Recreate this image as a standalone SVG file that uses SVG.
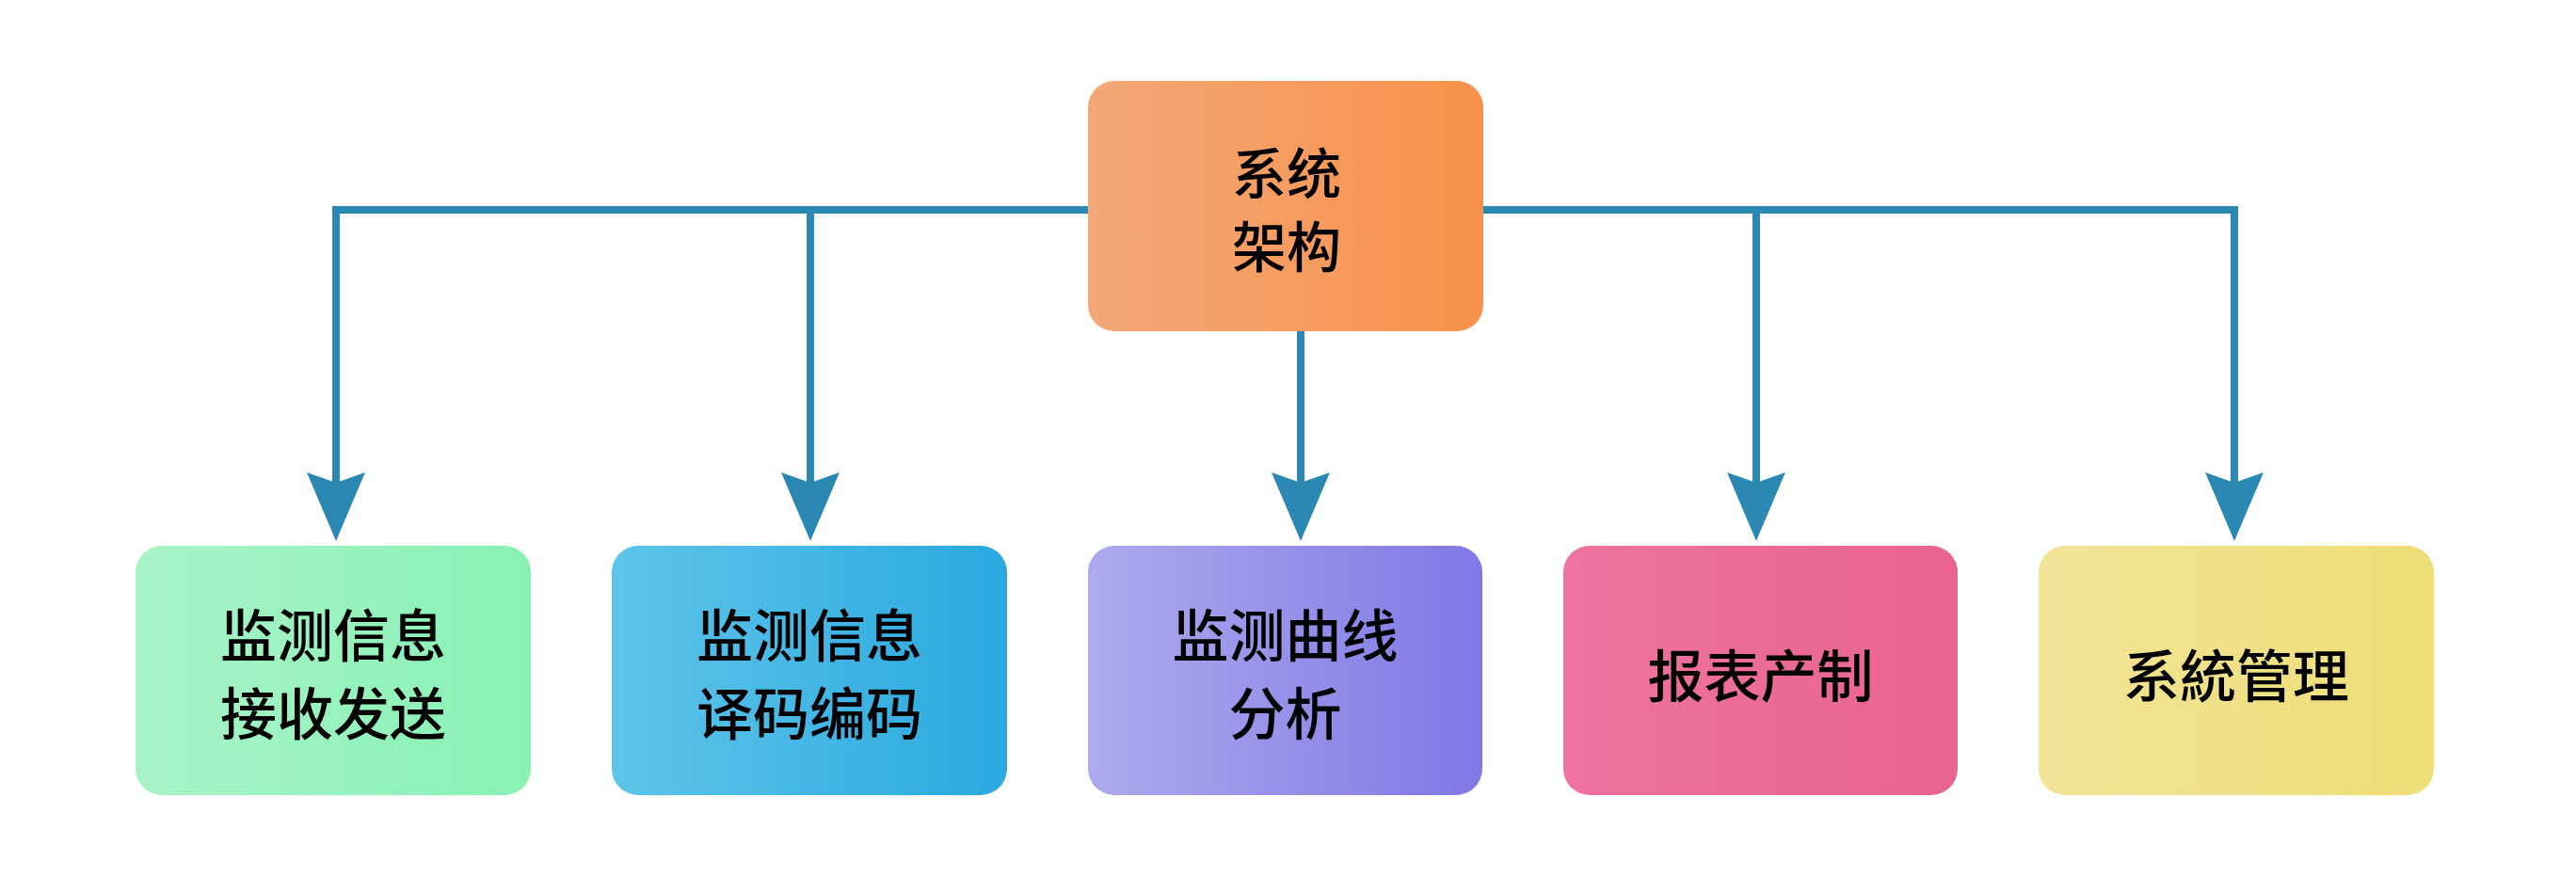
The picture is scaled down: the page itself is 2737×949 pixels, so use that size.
<svg xmlns="http://www.w3.org/2000/svg" width="2737" height="949" viewBox="0 0 2737 949">
<style>
.lbl{font-family:"Noto Sans CJK SC","Noto Sans CJK TC",sans-serif;font-size:60px;font-weight:500;fill:#000;text-anchor:middle}
.top{font-size:58px}
.conn{fill:none;stroke:#2a88b2;stroke-width:8;stroke-linejoin:miter;stroke-linecap:butt}
</style>
<defs>
<linearGradient id="gTop" x1="0" y1="0" x2="1" y2="0"><stop offset="0" stop-color="#f3a878"/><stop offset="1" stop-color="#f8914b"/></linearGradient>
<linearGradient id="g1" x1="0" y1="0" x2="1" y2="0"><stop offset="0" stop-color="#a9f3c8"/><stop offset="1" stop-color="#87f2b3"/></linearGradient>
<linearGradient id="g2" x1="0" y1="0" x2="1" y2="0"><stop offset="0" stop-color="#5ec5e9"/><stop offset="1" stop-color="#2aa8e0"/></linearGradient>
<linearGradient id="g3" x1="0" y1="0" x2="1" y2="0"><stop offset="0" stop-color="#aeaaec"/><stop offset="1" stop-color="#7f78e6"/></linearGradient>
<linearGradient id="g4" x1="0" y1="0" x2="1" y2="0"><stop offset="0" stop-color="#ee73a0"/><stop offset="1" stop-color="#e8648e"/></linearGradient>
<linearGradient id="g5" x1="0" y1="0" x2="1" y2="0"><stop offset="0" stop-color="#f2e497"/><stop offset="1" stop-color="#eede77"/></linearGradient>
<marker id="arr" markerUnits="userSpaceOnUse" viewBox="-15 -35 80 70" refX="0" refY="0" markerWidth="80" markerHeight="70" orient="auto">
<path d="M62,0 L-11,-31 L0,0 L-11,31 Z" fill="#2a88b2"/>
</marker>
</defs>
<rect width="2737" height="949" fill="#fff"/>
<g id="connectors">
<path class="conn" d="M1163,223 H357 V513" marker-end="url(#arr)"/>
<path class="conn" d="M861,223 V513" marker-end="url(#arr)"/>
<path class="conn" d="M1382,352 V513" marker-end="url(#arr)"/>
<path class="conn" d="M1568,223 H2374 V513" marker-end="url(#arr)"/>
<path class="conn" d="M1866,223 V513" marker-end="url(#arr)"/>
</g>
<g id="top">
<rect x="1156" y="86" width="420" height="266" rx="28" fill="url(#gTop)"/>
<text class="lbl top" x="1367" y="206">系统</text>
<text class="lbl top" x="1367" y="284">架构</text>
</g>
<g id="n1">
<rect x="144" y="580" width="420" height="265" rx="28" fill="url(#g1)"/>
<text class="lbl" x="354" y="698">监测信息</text>
<text class="lbl" x="354" y="781">接收发送</text>
</g>
<g id="n2">
<rect x="650" y="580" width="420" height="265" rx="28" fill="url(#g2)"/>
<text class="lbl" x="860" y="698">监测信息</text>
<text class="lbl" x="860" y="781">译码编码</text>
</g>
<g id="n3">
<rect x="1156" y="580" width="419" height="265" rx="28" fill="url(#g3)"/>
<text class="lbl" x="1365.5" y="698">监测曲线</text>
<text class="lbl" x="1365.5" y="781">分析</text>
</g>
<g id="n4">
<rect x="1661" y="580" width="419" height="265" rx="28" fill="url(#g4)"/>
<text class="lbl" x="1870.5" y="741">报表产制</text>
</g>
<g id="n5">
<rect x="2166" y="580" width="420" height="265" rx="28" fill="url(#g5)"/>
<text class="lbl" x="2376" y="741">系統管理</text>
</g>
</svg>
